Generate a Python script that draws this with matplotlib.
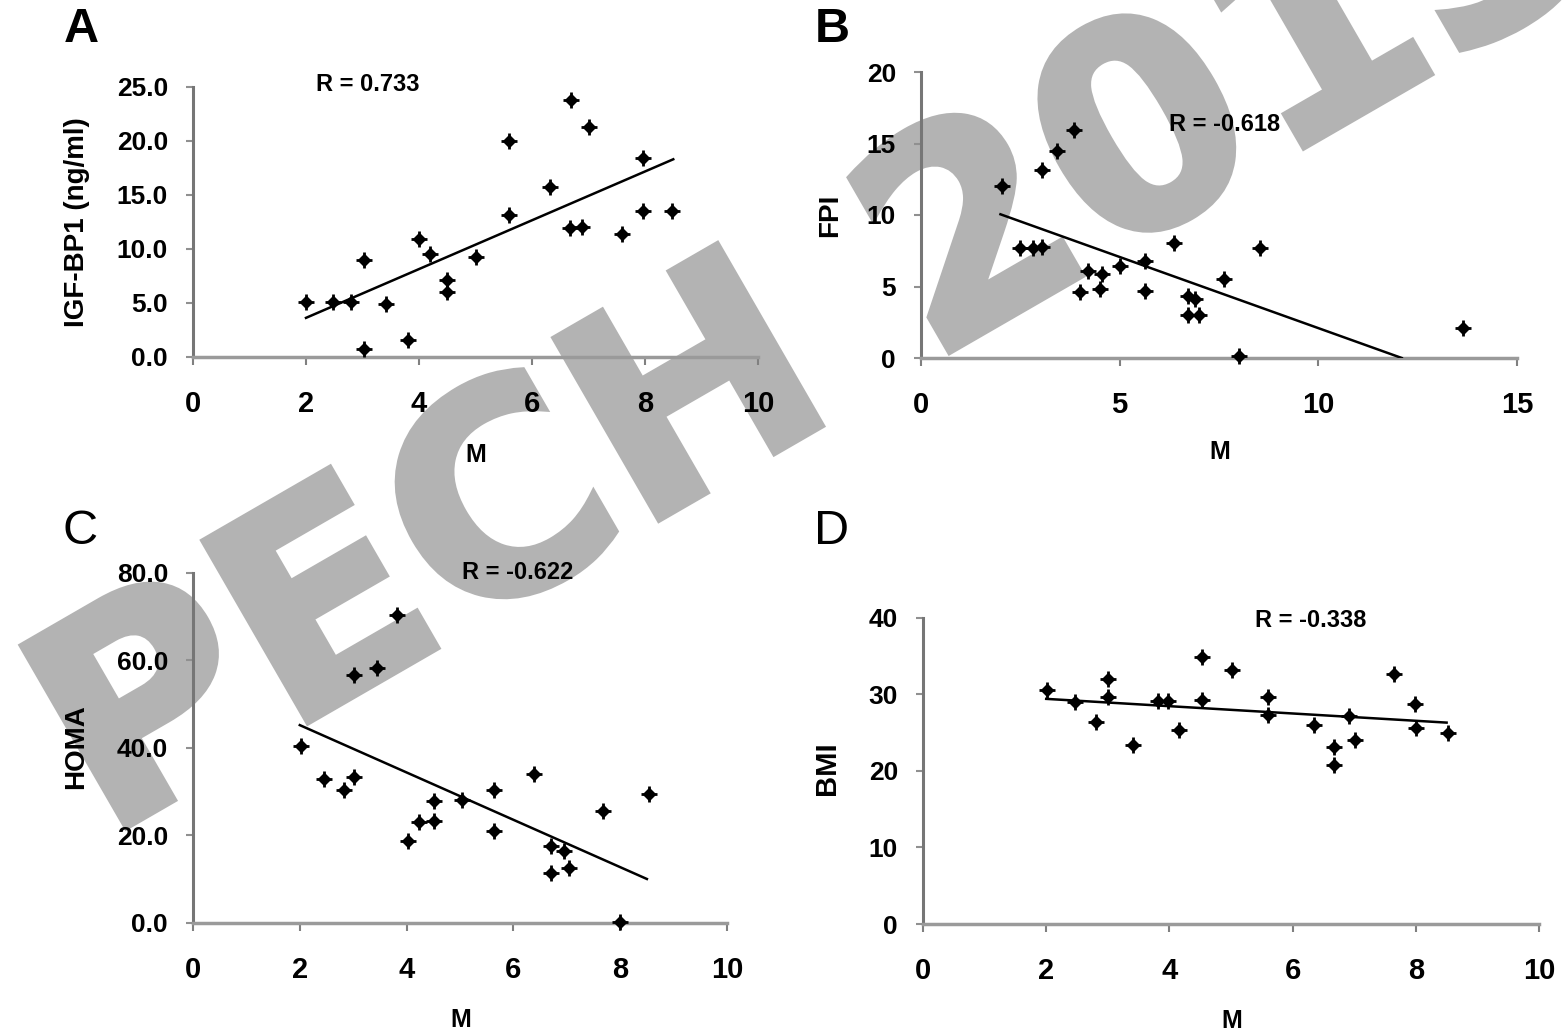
import matplotlib
matplotlib.use("Agg")
import matplotlib.pyplot as plt
import matplotlib.patheffects as pe

plt.rcParams['font.family'] = ['Liberation Sans', 'DejaVu Sans']
plt.rcParams['font.weight'] = 'bold'

# panel A: IGF-BP1 vs M
m_a = [2.0, 2.47, 2.8, 3.03, 3.03, 3.42, 3.81, 4.0, 4.2, 4.5, 4.5, 5.0, 5.6, 5.6,
       6.32, 6.69, 6.67, 6.88, 7.0, 7.6, 7.96, 7.97, 8.47]
igf = [5.1, 5.1, 5.1, 8.96, 0.7, 4.87, 1.55, 10.9, 9.5, 7.1, 6.0, 9.26, 20.0, 13.15,
       15.7, 23.8, 11.97, 12.0, 21.3, 11.35, 18.4, 13.55, 13.55]
fit_a_x, fit_a_y = [2.0, 8.5], [3.6, 18.3]

# panel B: FPI vs M
m_b = [2.05, 2.49, 2.83, 3.04, 3.04, 3.43, 3.86, 4.0, 4.21, 4.55, 4.5, 5.0, 5.63, 5.63,
       6.38, 6.73, 6.73, 6.89, 6.99, 7.62, 8.0, 8.53, 13.63]
fpi = [12.0, 7.7, 7.7, 7.75, 13.15, 14.46, 15.93, 4.65, 6.05, 5.9, 4.8, 6.45, 6.77, 4.67,
       8.06, 4.37, 3.03, 4.13, 3.03, 5.53, 0.12, 7.7, 2.1]
fit_b_x, fit_b_y = [2.0, 12.1], [10.05, 0.0]

# panel C: HOMA vs M
m_c = [2.02, 2.46, 2.82, 3.02, 3.02, 3.44, 3.82, 4.03, 4.24, 4.51, 4.51, 5.04, 5.63, 5.63,
       6.38, 6.71, 6.71, 6.94, 7.04, 7.67, 7.99, 8.53]
homa = [40.5, 32.8, 30.4, 33.3, 56.6, 58.2, 70.4, 18.8, 23.0, 27.9, 23.2, 28.0, 30.4, 21.0,
        34.0, 17.5, 11.3, 16.3, 12.5, 25.5, 0.2, 29.4]
fit_c_x, fit_c_y = [2.0, 8.5], [45.2, 10.0]

# panel D: BMI vs M
m_d = [2.01, 2.46, 2.81, 3.0, 3.0, 3.41, 3.81, 3.98, 4.16, 4.53, 4.53, 5.01, 5.6, 5.6,
       6.35, 6.67, 6.67, 6.92, 7.01, 7.65, 7.99, 8.01, 8.52]
bmi = [30.6, 29.0, 26.4, 32.0, 29.6, 23.4, 29.1, 29.1, 25.3, 34.9, 29.3, 33.2, 29.6, 27.3,
       26.0, 23.1, 20.8, 27.1, 24.0, 32.7, 28.7, 25.6, 24.9]
fit_d_x, fit_d_y = [2.0, 8.5], [29.4, 26.3]

W, H = 1563, 1035
fig = plt.figure(figsize=(W / 100, H / 100), dpi=100)


def ftext(px, py, s, **kw):
    kw.setdefault('ha', 'center')
    kw.setdefault('va', 'center')
    fig.text(px / W, 1 - py / H, s, **kw)


def panel(l, t, r, b, x, y, fx, fy, xmax, xstep, ymax, ystep, yfmt):
    ax = fig.add_axes([l / W, 1 - b / H, (r - l) / W, (b - t) / H])
    ax.set_facecolor('none')
    ax.plot(x, y, ls='none', marker='D', ms=6, color='black', clip_on=False, zorder=4)
    ax.plot(x, y, ls='none', marker='+', ms=11, mew=2, color='black', clip_on=False, zorder=4)
    ax.plot(fx, fy, color='black', lw=1.8, zorder=3)
    ax.set_xlim(0, xmax)
    ax.set_ylim(0, ymax)
    ax.set_xticks(range(0, xmax + 1, xstep))
    ax.set_yticks(range(0, ymax + 1, ystep))
    ax.yaxis.set_major_formatter(yfmt)
    for s in ['top', 'right']:
        ax.spines[s].set_visible(False)
    ax.spines['left'].set_color('#767676')
    ax.spines['left'].set_linewidth(2.2)
    ax.spines['bottom'].set_color('#9a9a9a')
    ax.spines['bottom'].set_linewidth(2.5)
    ax.tick_params(axis='x', direction='out', length=6, width=1.5, color='#808080',
                   pad=18, labelsize=21)
    ax.tick_params(axis='y', direction='out', length=5, width=1.5, color='#909090',
                   pad=13, labelsize=19)
    return ax


ax_a = panel(193, 87, 758, 356.7, m_a, igf, fit_a_x, fit_a_y, 10, 2, 25, 5, '{x:.1f}')
ax_b = panel(921, 72, 1517, 358, m_b, fpi, fit_b_x, fit_b_y, 15, 5, 20, 5, '{x:.0f}')
ax_c = panel(193, 573, 727, 922.7, m_c, homa, fit_c_x, fit_c_y, 10, 2, 80, 20, '{x:.1f}')
ax_d = panel(923, 617.7, 1539, 924, m_d, bmi, fit_d_x, fit_d_y, 10, 2, 40, 10, '{x:.0f}')

ax_a.text(3.09, 25.2, 'R = 0.733', fontsize=17, ha='center', va='center')
ax_b.text(7.65, 16.35, 'R = -0.618', fontsize=17, ha='center', va='center')
ax_c.text(6.08, 80.2, 'R = -0.622', fontsize=17, ha='center', va='center')
ax_d.text(6.3, 39.6, 'R = -0.338', fontsize=17, ha='center', va='center')

# panel letters
ftext(81, 30, 'A', fontsize=35)
ftext(832, 30, 'B', fontsize=35)
ftext(80, 531, 'C', fontsize=35, fontweight='normal')
ftext(832, 531, 'D', fontsize=35, fontweight='normal')

# axis titles
ftext(77, 222, 'IGF-BP1 (ng/ml)', fontsize=20, rotation=90)
ftext(830, 215, 'FPI', fontsize=20, rotation=90)
ftext(76, 747, 'HOMA', fontsize=20, rotation=90)
ftext(827, 768, 'BMI', fontsize=21, rotation=90)
ftext(476, 455, 'M', fontsize=18)
ftext(1220, 452, 'M', fontsize=18)
ftext(461, 1020, 'M', fontsize=18)
ftext(1232, 1021, 'M', fontsize=18)

# watermark behind everything (heavy grey letters)
wm_color = '#b3b3b3'
fig.text(862 / W, 1 - 402 / H, 'PECH 2013', fontsize=206, fontweight='bold',
         family='DejaVu Sans', color=wm_color, rotation=30, rotation_mode='anchor',
         ha='center', va='baseline', zorder=-5,
         path_effects=[pe.withStroke(linewidth=5, foreground=wm_color, joinstyle='miter')])

fig.savefig('out.png', dpi=100)
